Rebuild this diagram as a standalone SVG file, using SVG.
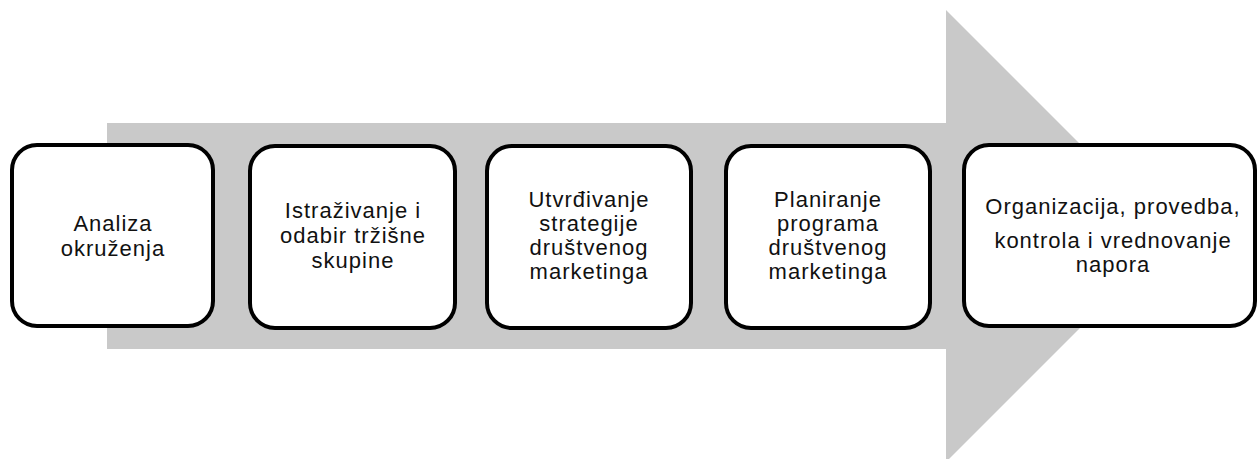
<svg xmlns="http://www.w3.org/2000/svg" width="1258" height="459" viewBox="0 0 1258 459">
<style>
.box{fill:#fff;stroke:#000;stroke-width:4}
.t{font-family:"Liberation Sans",Arial,sans-serif;font-size:22px;letter-spacing:1px;fill:#111;text-anchor:middle}
</style>
<rect width="1258" height="459" fill="#fff"/>
<g id="arrow">
<polygon points="107,123 946,123 946,10 1172,236 946,462 946,349 107,349" fill="#c9c9c9"/>
</g>
<g id="connectors"></g>
<g id="n1">
<rect class="box" x="12" y="145" width="201" height="181" rx="25"/>
<text class="t" x="113" y="231">Analiza</text>
<text class="t" x="113" y="256">okruženja</text>
</g>
<g id="n2">
<rect class="box" x="250" y="146" width="205" height="182" rx="25"/>
<text class="t" x="353" y="218">Istraživanje i</text>
<text class="t" x="353" y="243">odabir tržišne</text>
<text class="t" x="353" y="268">skupine</text>
</g>
<g id="n3">
<rect class="box" x="487" y="146" width="204" height="182" rx="25"/>
<text class="t" x="589" y="207">Utvrđivanje</text>
<text class="t" x="589" y="231">strategije</text>
<text class="t" x="589" y="255">društvenog</text>
<text class="t" x="589" y="279">marketinga</text>
</g>
<g id="n4">
<rect class="box" x="726" y="146" width="204" height="182" rx="25"/>
<text class="t" x="828" y="207">Planiranje</text>
<text class="t" x="828" y="231">programa</text>
<text class="t" x="828" y="255">društvenog</text>
<text class="t" x="828" y="279">marketinga</text>
</g>
<g id="n5">
<rect class="box" x="964" y="145" width="291" height="181" rx="25"/>
<text class="t" x="1113" y="214">Organizacija, provedba,</text>
<text class="t" x="1113" y="248">kontrola i vrednovanje</text>
<text class="t" x="1113" y="272">napora</text>
</g>
</svg>
